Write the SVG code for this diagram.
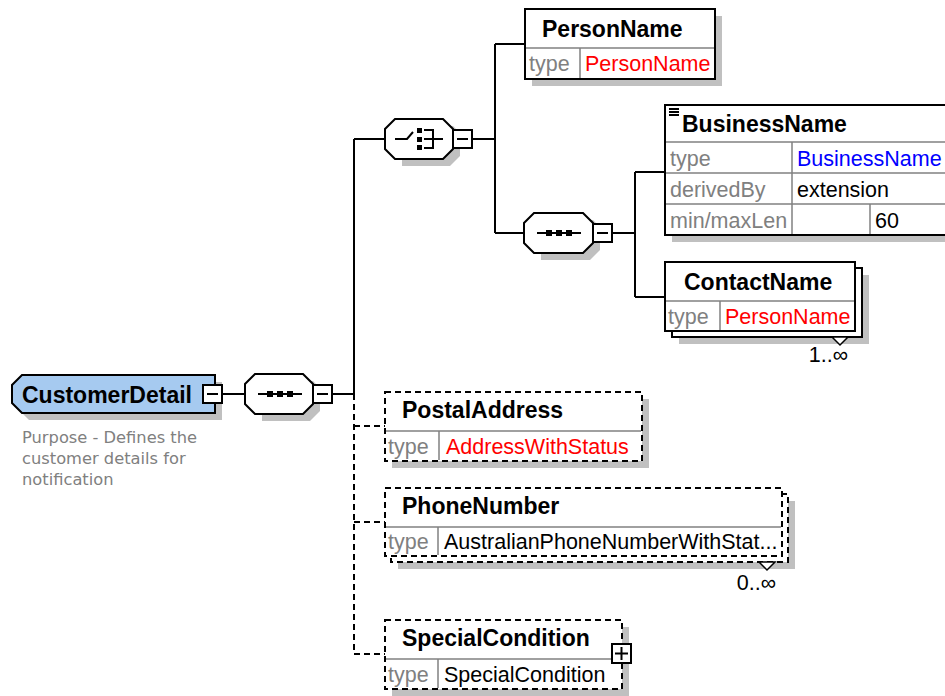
<svg xmlns="http://www.w3.org/2000/svg" width="945" height="696" viewBox="0 0 945 696">
<style>
.box{fill:#fff;stroke:#000;stroke-width:2}
.dbox{fill:#fff;stroke:#000;stroke-width:2;stroke-dasharray:6 4}
.sh{fill:#c0c0c0}
.dv{stroke:#808080;stroke-width:1.5;fill:none}
.ln{stroke:#000;stroke-width:2;fill:none}
.dl{stroke:#000;stroke-width:2;stroke-dasharray:6 4;fill:none}
.b{font-family:"Liberation Sans",Arial,sans-serif;font-weight:bold;font-size:23px;fill:#000}
.r{font-family:"Liberation Sans",Arial,sans-serif;font-size:21.5px;fill:#000}
.g{fill:#808080}
.red{fill:#f00}
.blue{fill:#00f}
.desc{font-family:"DejaVu Sans",Verdana,sans-serif;font-size:16.3px;fill:#808080}
.sq{fill:#000}
.pm{fill:#fff;stroke:#000;stroke-width:2}
.card{fill:#fff;stroke:#000;stroke-width:1.5}
</style>
<rect width="945" height="696" fill="#fff"/>

<g id="connectors">
  <line class="ln" x1="222" y1="394" x2="245" y2="394"/>
  <line class="ln" x1="332" y1="394" x2="354" y2="394"/>
  <line class="ln" x1="354" y1="139" x2="354" y2="394"/>
  <line class="ln" x1="354" y1="139" x2="385" y2="139"/>
  <line class="dl" x1="354" y1="394" x2="354" y2="654"/>
  <line class="dl" x1="354" y1="426" x2="385" y2="426"/>
  <line class="dl" x1="354" y1="522" x2="385" y2="522"/>
  <line class="dl" x1="354" y1="654" x2="385" y2="654"/>
  <line class="ln" x1="472" y1="139" x2="495" y2="139"/>
  <line class="ln" x1="495" y1="44" x2="495" y2="233"/>
  <line class="ln" x1="495" y1="44" x2="525" y2="44"/>
  <line class="ln" x1="495" y1="233" x2="525" y2="233"/>
  <line class="ln" x1="612" y1="233" x2="635" y2="233"/>
  <line class="ln" x1="635" y1="172" x2="635" y2="297"/>
  <line class="ln" x1="635" y1="172" x2="665" y2="172"/>
  <line class="ln" x1="635" y1="297" x2="665" y2="297"/>
</g>

<g id="CustomerDetail">
  <polygon class="sh" points="29,382 222,382 222,420 29,420 19,410 19,392"/>
  <polygon points="22,375 215,375 215,413 22,413 12,403 12,385" fill="#a6caf0" stroke="#000" stroke-width="2"/>
  <text class="b" x="22" y="403" font-size="23.3">CustomerDetail</text>
  <rect class="pm" x="203" y="385" width="19" height="18"/>
  <line class="ln" x1="207" y1="394" x2="218" y2="394"/>
  <text class="desc" x="22" y="443">Purpose - Defines the</text>
  <text class="desc" x="22" y="464">customer details for</text>
  <text class="desc" x="22" y="485">notification</text>
</g>

<g id="sequence1">
  <polygon class="sh" points="262,381 313,381 320,388 320,411 310,421 262,421"/>
  <polygon class="box" points="255,374 303,374 313,384 313,404 303,414 255,414 245,404 245,384"/>
  <line class="ln" x1="258" y1="394" x2="302" y2="394"/>
  <rect class="sq" x="267" y="391" width="6" height="6"/>
  <rect class="sq" x="277" y="391" width="6" height="6"/>
  <rect class="sq" x="287" y="391" width="6" height="6"/>
  <rect class="pm" x="313" y="385" width="19" height="18"/>
  <line class="ln" x1="317" y1="394" x2="328" y2="394"/>
</g>

<g id="choice">
  <polygon class="sh" points="402,126 453,126 460,133 460,156 450,166 402,166"/>
  <polygon class="box" points="395,119 443,119 453,129 453,149 443,159 395,159 385,149 385,129"/>
  <polyline class="ln" points="395,139 407,139 413,132"/>
  <rect class="sq" x="417" y="128" width="5" height="5"/>
  <rect class="sq" x="417" y="137" width="5" height="5"/>
  <rect class="sq" x="417" y="145" width="5" height="5"/>
  <polyline class="ln" points="424,130 433,130 433,148 424,148"/>
  <line class="ln" x1="424" y1="139" x2="443" y2="139"/>
  <rect class="pm" x="453" y="130" width="19" height="18"/>
  <line class="ln" x1="457" y1="139" x2="468" y2="139"/>
</g>

<g id="sequence2">
  <polygon class="sh" points="541,220 593,220 600,227 600,250 590,260 541,260"/>
  <polygon class="box" points="534,213 583,213 593,223 593,243 583,253 534,253 524,243 524,223"/>
  <line class="ln" x1="537" y1="233" x2="581" y2="233"/>
  <rect class="sq" x="546" y="230" width="6" height="6"/>
  <rect class="sq" x="556" y="230" width="6" height="6"/>
  <rect class="sq" x="566" y="230" width="6" height="6"/>
  <rect class="pm" x="593" y="224" width="19" height="18"/>
  <line class="ln" x1="597" y1="233" x2="608" y2="233"/>
</g>

<g id="PersonName">
  <rect class="sh" x="532" y="16" width="190" height="70"/>
  <rect class="box" x="525" y="9" width="190" height="70"/>
  <line class="dv" x1="526" y1="48" x2="714" y2="48"/>
  <line class="dv" x1="580" y1="48" x2="580" y2="78"/>
  <text class="b" x="542" y="37">PersonName</text>
  <text class="r g" x="529" y="71">type</text>
  <text class="r red" x="585" y="71">PersonName</text>
</g>

<g id="BusinessName">
  <rect class="sh" x="672" y="112" width="300" height="130"/>
  <rect class="box" x="665" y="105" width="300" height="130"/>
  <line class="ln" x1="669" y1="109" x2="679" y2="109" stroke-width="1.5"/>
  <line class="ln" x1="669" y1="112" x2="679" y2="112" stroke-width="1.5"/>
  <line class="ln" x1="669" y1="115" x2="679" y2="115" stroke-width="1.5"/>
  <line class="dv" x1="666" y1="142" x2="945" y2="142"/>
  <line class="dv" x1="666" y1="173" x2="945" y2="173"/>
  <line class="dv" x1="666" y1="204" x2="945" y2="204"/>
  <line class="dv" x1="792" y1="142" x2="792" y2="234"/>
  <line class="dv" x1="870" y1="204" x2="870" y2="234"/>
  <text class="b" x="682" y="132">BusinessName</text>
  <text class="r g" x="670" y="166">type</text>
  <text class="r blue" x="797" y="166">BusinessName</text>
  <text class="r g" x="670" y="197">derivedBy</text>
  <text class="r" x="797" y="197">extension</text>
  <text class="r g" x="670" y="228">min/maxLen</text>
  <text class="r" x="875" y="228">60</text>
</g>

<g id="ContactName">
  <rect class="sh" x="679" y="275" width="190" height="69"/>
  <rect class="box" x="672" y="268" width="190" height="69"/>
  <rect class="box" x="665" y="262" width="190" height="69"/>
  <line class="dv" x1="666" y1="301" x2="854" y2="301"/>
  <line class="dv" x1="720" y1="301" x2="720" y2="330"/>
  <text class="b" x="684" y="290">ContactName</text>
  <text class="r g" x="668" y="324">type</text>
  <text class="r red" x="725" y="324">PersonName</text>
  <polygon class="card" points="832,337 840,345 848,337"/>
  <text class="r" x="848" y="362" text-anchor="end">1..∞</text>
</g>

<g id="PostalAddress">
  <rect class="sh" x="392" y="399" width="257" height="69"/>
  <rect class="dbox" x="385" y="392" width="257" height="69"/>
  <line class="dv" x1="386" y1="431" x2="641" y2="431"/>
  <line class="dv" x1="439" y1="431" x2="439" y2="460"/>
  <text class="b" x="402" y="418">PostalAddress</text>
  <text class="r g" x="388" y="454">type</text>
  <text class="r red" x="446" y="454">AddressWithStatus</text>
</g>

<g id="PhoneNumber">
  <rect class="sh" x="398" y="501" width="397" height="68"/>
  <rect class="dbox" x="391" y="494" width="397" height="68"/>
  <rect class="dbox" x="385" y="488" width="397" height="68"/>
  <line class="dv" x1="386" y1="527" x2="781" y2="527"/>
  <line class="dv" x1="438" y1="527" x2="438" y2="555"/>
  <text class="b" x="402" y="514">PhoneNumber</text>
  <text class="r g" x="388" y="549">type</text>
  <text class="r" x="444" y="549">AustralianPhoneNumberWithStat...</text>
  <polygon class="card" points="759,562 767,570 775,562"/>
  <text class="r" x="776" y="590" text-anchor="end">0..∞</text>
</g>

<g id="SpecialCondition">
  <rect class="sh" x="392" y="627" width="237" height="69"/>
  <rect class="dbox" x="385" y="620" width="237" height="69"/>
  <line class="dv" x1="386" y1="659" x2="621" y2="659"/>
  <line class="dv" x1="438" y1="659" x2="438" y2="688"/>
  <text class="b" x="402" y="646">SpecialCondition</text>
  <text class="r g" x="388" y="682">type</text>
  <text class="r" x="444" y="682">SpecialCondition</text>
  <rect class="pm" x="612" y="644" width="19" height="19"/>
  <line class="ln" x1="615" y1="653.5" x2="628" y2="653.5"/>
  <line class="ln" x1="621.5" y1="647" x2="621.5" y2="660"/>
</g>
</svg>
